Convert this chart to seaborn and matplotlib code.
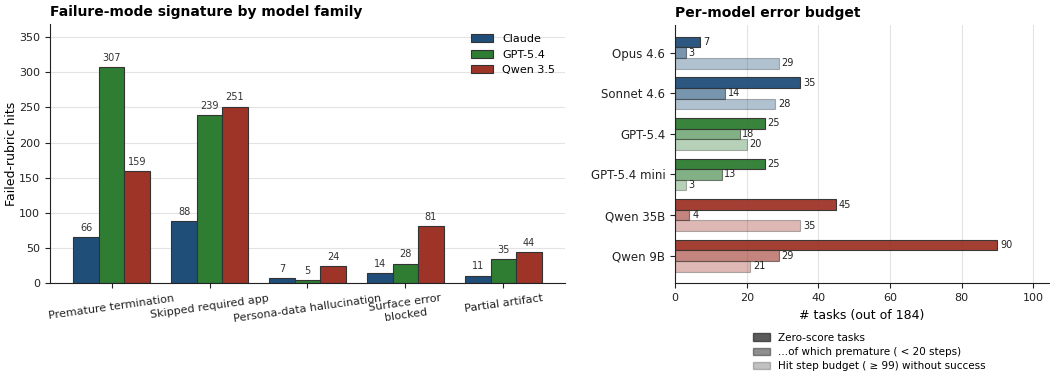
import matplotlib
matplotlib.use("Agg")
import matplotlib.pyplot as plt
from matplotlib.patches import Patch
import pandas as pd
import seaborn as sns

# left panel: failed-rubric hits per failure mode
modes = ["Premature termination", "Skipped required app", "Persona-data hallucination",
         "Surface error\nblocked", "Partial artifact"]
families = ["Claude", "GPT-5.4", "Qwen 3.5"]
claude_hits = [66, 88, 7, 14, 11]
gpt_hits = [307, 239, 5, 28, 35]
qwen_hits = [159, 251, 24, 81, 44]

# right panel: per-model error budget
models = ["Opus 4.6", "Sonnet 4.6", "GPT-5.4", "GPT-5.4 mini", "Qwen 35B", "Qwen 9B"]
model_family = ["Claude", "Claude", "GPT-5.4", "GPT-5.4", "Qwen 3.5", "Qwen 3.5"]
zero_score = [7, 35, 25, 25, 45, 90]
premature = [3, 14, 18, 13, 4, 29]
budget_hit = [29, 28, 20, 3, 35, 21]
metrics = ["Zero-score tasks", "...of which premature ( < 20 steps)",
           "Hit step budget ( \u2265 99) without success"]

family_colors = {"Claude": "#1F4E79", "GPT-5.4": "#2E7D32", "Qwen 3.5": "#9E3428"}
metric_alpha = [0.95, 0.6, 0.35]
legend_alpha = [0.8, 0.55, 0.3]

sns.set_style("ticks")
plt.rcParams["font.family"] = ["DejaVu Sans"]
plt.rcParams.update({"text.color": "black", "axes.labelcolor": "black",
                     "xtick.color": "#222222", "ytick.color": "#222222",
                     "axes.edgecolor": "#222222"})

fig = plt.figure(figsize=(10.5, 3.77), dpi=100)
ax1 = fig.add_axes([0.0476, 0.2485, 0.4905, 0.6878])
ax2 = fig.add_axes([0.6429, 0.2485, 0.3562, 0.685])

# ---- left panel
left_df = pd.DataFrame({
    "mode": modes * 3,
    "family": [f for f in families for _ in modes],
    "hits": claude_hits + gpt_hits + qwen_hits,
})
sns.barplot(data=left_df, x="mode", y="hits", hue="family", order=modes,
            hue_order=families, palette=family_colors, width=0.78,
            edgecolor="#333333", linewidth=0.8, saturation=1, ax=ax1)
for cont in ax1.containers:
    ax1.bar_label(cont, padding=3, fontsize=7, color="#333333")
ax1.set_xlim(-0.63, 4.63)
ax1.set_ylim(0, max(gpt_hits) * 1.2)
ax1.set_yticks(range(0, 351, 50))
ax1.yaxis.grid(True, color="#e3e3e3", linewidth=0.8)
ax1.set_axisbelow(True)
ax1.set_xlabel("")
ax1.set_ylabel("Failed-rubric hits", fontsize=9, labelpad=1)
ax1.tick_params(axis="both", labelsize=8)
for lab in ax1.get_xticklabels():
    lab.set_rotation(8)
    lab.set_ha("center")
ax1.set_title("Failure-mode signature by model family", loc="left",
              fontsize=10, fontweight="bold")
ax1.legend(frameon=False, loc="upper right", fontsize=8)
sns.despine(ax=ax1)

# ---- right panel
right_df = pd.DataFrame({
    "model": models * 3,
    "metric": [m for m in metrics for _ in models],
    "tasks": zero_score + premature + budget_hit,
})
sns.barplot(data=right_df, y="model", x="tasks", hue="metric", order=models,
            hue_order=metrics, orient="h", width=0.78, edgecolor="#333333",
            linewidth=0.8, legend=False, ax=ax2)
for k, cont in enumerate(ax2.containers):
    for i, bar in enumerate(cont):
        bar.set_facecolor(family_colors[model_family[i]])
        bar.set_alpha(metric_alpha[k])
    ax2.bar_label(cont, padding=2, fontsize=7, color="#222222")
ax2.set_xlim(0, 104.4)
ax2.set_ylim(5.68, -0.68)
ax2.xaxis.grid(True, color="#e3e3e3", linewidth=0.8)
ax2.set_axisbelow(True)
ax2.set_ylabel("")
ax2.set_xlabel("# tasks (out of 184)", fontsize=9)
ax2.tick_params(axis="x", labelsize=8)
ax2.tick_params(axis="y", labelsize=8.5)
ax2.set_title("Per-model error budget", loc="left", fontsize=10, fontweight="bold")
handles = [Patch(facecolor="#333333", edgecolor="#333333", alpha=a, label=m)
           for m, a in zip(metrics, legend_alpha)]
ax2.legend(handles=handles, frameon=False, loc="upper center",
           bbox_to_anchor=(0.52, -0.155), fontsize=7.5, handlelength=1.6,
           labelspacing=0.4)
sns.despine(ax=ax2)

fig.savefig("out.png", dpi=100)
